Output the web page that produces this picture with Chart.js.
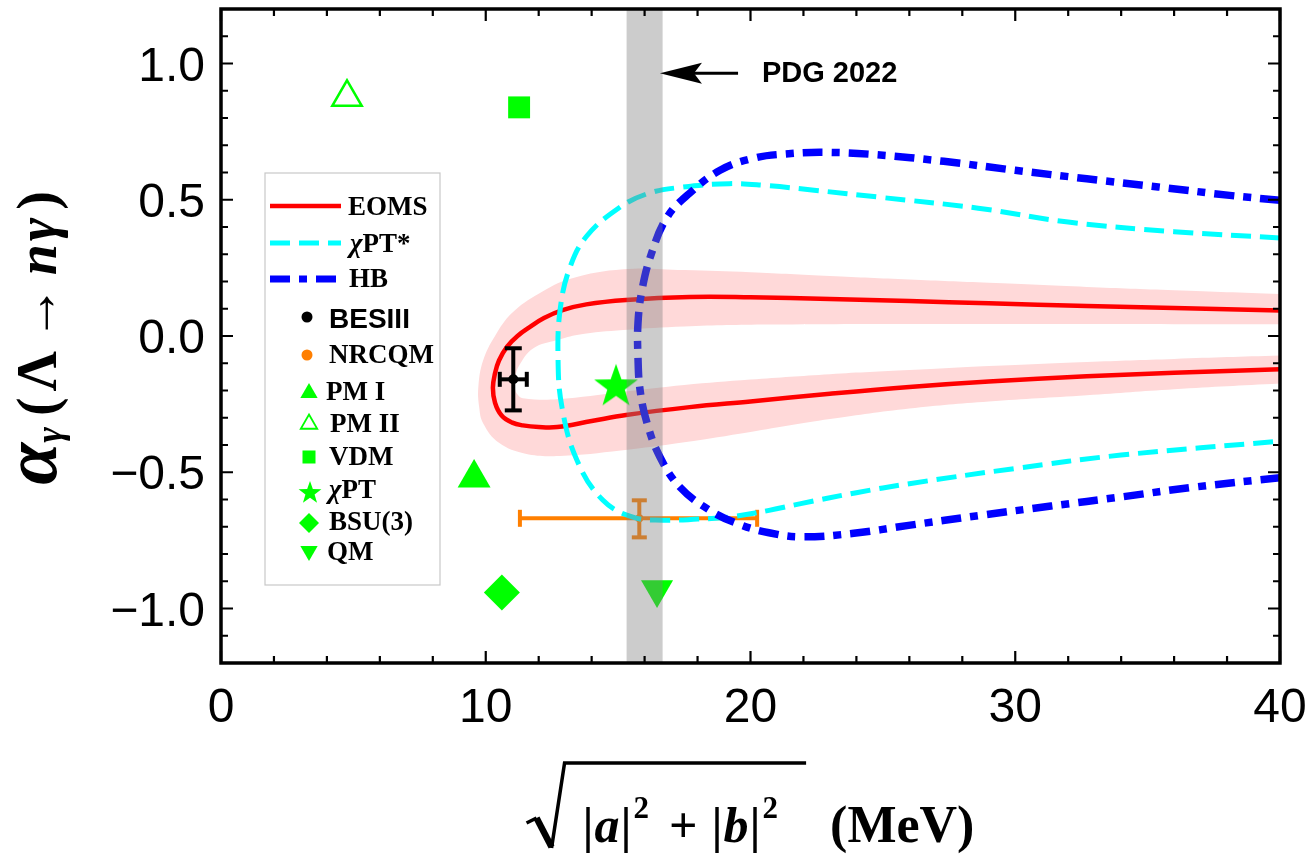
<!DOCTYPE html>
<html>
<head>
<meta charset="utf-8">
<title>alpha_gamma(Lambda -> n gamma)</title>
<script src="https://cdn.jsdelivr.net/npm/chart.js@4.4.0/dist/chart.umd.min.js"></script>
<style>
  html, body { margin: 0; padding: 0; background: #fff; }
</style>
</head>
<body>
<canvas id="chart" width="1315" height="855"></canvas>
<script>
// axes
const xRange = [0, 40];
const yRange = [-1.2, 1.2];
const xStep = 2, yStep = 0.1;      // minor ticks, labels only on majors
const xMajor = 10, yMajor = 0.5;

// EOMS curve (upper branch right->left, then lower branch left->right)
const eomsX = [40, 36, 32.7, 29, 26, 23, 20, 17.7, 15.3, 13.8, 12.9, 12.2, 11.7, 11.2, 10.8, 10.5, 10.35, 10.27, 10.35, 10.6, 11.0, 11.4, 12.0, 12.7, 14.0, 15.3, 17.7, 20, 23, 26, 29, 32.7, 36, 40];
const eomsY = [0.094, 0.103, 0.110, 0.120, 0.128, 0.136, 0.142, 0.143, 0.132, 0.116, 0.095, 0.066, 0.035, 0.000, -0.040, -0.090, -0.137, -0.190, -0.245, -0.292, -0.318, -0.328, -0.334, -0.334, -0.312, -0.290, -0.261, -0.240, -0.212, -0.187, -0.167, -0.148, -0.135, -0.122];

// EOMS error band: outer edge and inner edge (hole)
const bandOuterX = [41, 40, 36, 32.7, 29, 26, 23, 20, 17.5, 15.2, 13.2, 12.0, 11.0, 10.35, 9.9, 9.72, 9.75, 9.9, 10.5, 11.5, 12.8, 15.1, 17.5, 20, 23, 26, 29, 32.7, 36, 40, 41];
const bandOuterY = [0.150, 0.154, 0.168, 0.180, 0.195, 0.207, 0.220, 0.234, 0.242, 0.245, 0.210, 0.155, 0.085, 0.000, -0.090, -0.187, -0.260, -0.320, -0.392, -0.432, -0.440, -0.420, -0.390, -0.352, -0.305, -0.266, -0.240, -0.217, -0.195, -0.174, -0.170];
const bandInnerX = [41, 40, 30, 20.7, 17.5, 15.2, 13.5, 12.7, 11.8, 11.25, 11.12, 11.1, 11.2, 11.4, 12.7, 15.2, 17.5, 20, 23, 26, 29, 32.7, 36, 40, 41];
const bandInnerY = [0.043, 0.043, 0.044, 0.042, 0.035, 0.022, 0.005, -0.015, -0.045, -0.110, -0.150, -0.190, -0.215, -0.228, -0.232, -0.205, -0.180, -0.160, -0.140, -0.125, -0.110, -0.095, -0.084, -0.072, -0.070];

// chiPT* curve
const chptX = [40, 36, 32, 28.6, 24.9, 22.4, 20.5, 19.2, 17.4, 16.1, 15.0, 13.8, 13.18, 12.82, 12.73, 12.88, 13.45, 14.43, 15.56, 16.69, 18.0, 19.23, 20.7, 21.9, 24, 26, 30, 34, 40];
const chptY = [0.360, 0.383, 0.418, 0.469, 0.509, 0.535, 0.553, 0.559, 0.546, 0.522, 0.468, 0.365, 0.252, 0.105, -0.079, -0.262, -0.457, -0.603, -0.665, -0.676, -0.672, -0.664, -0.640, -0.615, -0.575, -0.542, -0.486, -0.437, -0.386];

// HB curve
const hbX = [40, 38.1, 35.4, 32.7, 30, 27.3, 24.8, 22.8, 21.3, 20.1, 18.85, 17.7, 16.85, 16.25, 15.9, 15.75, 15.75, 15.83, 16.09, 16.58, 17.34, 18.47, 19.6, 20.7, 21.9, 23.9, 25.97, 28.7, 31.35, 34.05, 36.8, 40];
const hbY = [0.498, 0.516, 0.547, 0.577, 0.608, 0.641, 0.665, 0.674, 0.668, 0.652, 0.608, 0.524, 0.436, 0.300, 0.168, 0.047, -0.078, -0.199, -0.319, -0.444, -0.555, -0.640, -0.692, -0.722, -0.737, -0.724, -0.695, -0.658, -0.624, -0.590, -0.554, -0.520];

// data points: [x, y, xErr, yErrLow, yErrHigh]
const besiii = [11.04, -0.159, 0.51, 0.114, 0.114];
const nrcqm = [15.8, -0.669, 0, 0.070, 0.066];
const nrcqmXRange = [11.29, 20.25];

// model predictions (green markers)
const pm1 = [9.56, -0.521];
const pm2 = [4.76, 0.876];
const vdm = [11.26, 0.839];
const chpt = [14.92, -0.181];
const bsu3 = [10.61, -0.941];
const qm = [16.47, -0.930];

// PDG 2022 band and label
const pdgBand = [15.32, 16.68];
const pdgArrow = { tipX: 16.58, tailX: 19.53, y: 0.964, textX: 20.43, text: 'PDG 2022' };

const GREEN = '#00ff00', ORANGE = '#ff7f00';
const serif = '"Liberation Serif", "Times New Roman", serif';
const sans = '"Liberation Sans", Arial, sans-serif';

function pts(xs, ys) { return xs.map((x, i) => ({ x: x, y: ys[i] })); }

function starCanvas(r, color) {
  const c = document.createElement('canvas');
  const s = Math.ceil(2 * r + 2);
  c.width = s; c.height = s;
  const g = c.getContext('2d');
  starPath(g, s / 2, s / 2 + r * 0.06, r);
  g.fillStyle = color;
  g.fill();
  return c;
}
function starPath(g, cx, cy, r) {
  g.beginPath();
  for (let i = 0; i < 10; i++) {
    const a = -Math.PI / 2 + i * Math.PI / 5;
    const rr = i % 2 ? r * 0.4 : r;
    g.lineTo(cx + rr * Math.cos(a), cy + rr * Math.sin(a));
  }
  g.closePath();
}

function marker(p, style, radius, extra) {
  return Object.assign({
    data: [{ x: p[0], y: p[1] }],
    showLine: false,
    pointStyle: style,
    pointRadius: radius,
    pointBackgroundColor: GREEN,
    pointBorderColor: GREEN,
    pointBorderWidth: 0,
    order: 50
  }, extra || {});
}

function errBar(a, b, capRot, capR, color, order) {
  return {
    data: [a, b],
    borderColor: color,
    borderWidth: 4,
    tension: 0,
    pointStyle: 'line',
    pointRotation: capRot,
    pointRadius: capR,
    pointBorderColor: color,
    pointBorderWidth: 4,
    order: order
  };
}

const datasets = [
  { data: pts(bandOuterX, bandOuterY), fill: 'shape', backgroundColor: '#ffd9d9', borderColor: 'transparent', borderWidth: 0, pointRadius: 0, tension: 0.4, order: 100 },
  { data: pts(bandInnerX, bandInnerY), fill: 'shape', backgroundColor: '#ffffff', borderColor: 'transparent', borderWidth: 0, pointRadius: 0, tension: 0.4, order: 99 },

  errBar({ x: nrcqmXRange[0], y: nrcqm[1] }, { x: nrcqmXRange[1], y: nrcqm[1] }, 90, 8.5, ORANGE, 95),
  errBar({ x: nrcqm[0], y: nrcqm[1] - nrcqm[3] }, { x: nrcqm[0], y: nrcqm[1] + nrcqm[4] }, 0, 7.5, ORANGE, 95),
  { data: [{ x: nrcqm[0], y: nrcqm[1] }], showLine: false, pointRadius: 4, pointBackgroundColor: ORANGE, pointBorderWidth: 0, order: 95 },

  { data: pts(eomsX, eomsY), borderColor: '#ff0000', borderWidth: 4.5, pointRadius: 0, tension: 0.4, order: 90 },
  { data: pts(chptX, chptY), borderColor: '#00ffff', borderWidth: 5, borderDash: [20, 9], pointRadius: 0, tension: 0.4, order: 80 },
  { data: pts(hbX, hbY), borderColor: '#0000ff', borderWidth: 7.5, borderDash: [20, 9, 8, 9], pointRadius: 0, tension: 0.4, order: 70 },

  errBar({ x: besiii[0], y: besiii[1] - besiii[3] }, { x: besiii[0], y: besiii[1] + besiii[4] }, 0, 8.5, '#000', 60),
  errBar({ x: besiii[0] - besiii[2], y: besiii[1] }, { x: besiii[0] + besiii[2], y: besiii[1] }, 90, 7.5, '#000', 60),
  { data: [{ x: besiii[0], y: besiii[1] }], showLine: false, pointRadius: 5, pointBackgroundColor: '#000', pointBorderWidth: 0, order: 60 },

  marker(pm1, 'triangle', 19),
  marker(pm2, 'triangle', 17, { pointBackgroundColor: '#fff', pointBorderWidth: 2.5 }),
  marker(vdm, 'rect', 15.5),
  marker(chpt, starCanvas(23, GREEN), 23),
  marker(bsu3, 'rectRot', 18),
  marker(qm, 'triangle', 18.5, { pointRotation: 180 }),

  { data: [{ x: pdgBand[0], y: -1.5 }, { x: pdgBand[0], y: 1.5 }, { x: pdgBand[1], y: 1.5 }, { x: pdgBand[1], y: -1.5 }],
    fill: 'shape', backgroundColor: 'rgba(128,128,128,0.4)', borderColor: 'transparent', borderWidth: 0, pointRadius: 0, tension: 0, order: 10 }
];

function isMajor(v, step) { return Math.abs(v / step - Math.round(v / step)) < 1e-6; }

// inward frame ticks on all four sides, plus tick labels
const frameTicks = {
  id: 'frameTicks',
  afterDatasetsDraw(chart) {
    const { ctx, chartArea: a, scales: { x, y } } = chart;
    ctx.save();
    ctx.strokeStyle = '#000';
    ctx.fillStyle = '#000';
    ctx.lineWidth = 2.2;
    ctx.font = '48px ' + sans;
    ctx.beginPath();
    x.ticks.forEach(t => {
      const p = x.getPixelForValue(t.value);
      const major = isMajor(t.value, xMajor);
      const len = major ? 12 : 7;
      ctx.moveTo(p, a.bottom); ctx.lineTo(p, a.bottom - len);
      ctx.moveTo(p, a.top); ctx.lineTo(p, a.top + len);
      if (major) {
        ctx.textAlign = 'center';
        ctx.textBaseline = 'alphabetic';
        ctx.fillText(String(Math.round(t.value)), p, a.bottom + 59);
      }
    });
    y.ticks.forEach(t => {
      const p = y.getPixelForValue(t.value);
      const major = isMajor(t.value, yMajor);
      const len = major ? 12 : 7;
      ctx.moveTo(a.left, p); ctx.lineTo(a.left + len, p);
      ctx.moveTo(a.right, p); ctx.lineTo(a.right - len, p);
      if (major) {
        ctx.textAlign = 'right';
        ctx.textBaseline = 'alphabetic';
        const lab = (Math.round(t.value * 10) / 10).toFixed(1).replace('-', '\u2212');
        ctx.fillText(lab === '\u22120.0' ? '0.0' : lab, a.left - 16, p + 17);
      }
    });
    ctx.stroke();
    ctx.lineWidth = 3.5;
    ctx.strokeRect(a.left, a.top, a.right - a.left, a.bottom - a.top);
    ctx.restore();
  }
};

// PDG arrow + label
const pdgLabel = {
  id: 'pdgLabel',
  afterDatasetsDraw(chart) {
    const { ctx, scales: { x, y } } = chart;
    const tip = x.getPixelForValue(pdgArrow.tipX);
    const tail = x.getPixelForValue(pdgArrow.tailX);
    const py = y.getPixelForValue(pdgArrow.y);
    ctx.save();
    ctx.strokeStyle = '#000';
    ctx.fillStyle = '#000';
    ctx.lineWidth = 3;
    ctx.beginPath();
    ctx.moveTo(tail, py); ctx.lineTo(tip + 30, py);
    ctx.stroke();
    ctx.beginPath();
    ctx.moveTo(tip, py);
    ctx.lineTo(tip + 42, py - 10.5);
    ctx.lineTo(tip + 34, py);
    ctx.lineTo(tip + 42, py + 10.5);
    ctx.closePath();
    ctx.fill();
    ctx.font = 'bold 29px ' + sans;
    ctx.textBaseline = 'middle';
    ctx.fillText(pdgArrow.text, x.getPixelForValue(pdgArrow.textX), py + 1);
    ctx.restore();
  }
};

// legend box
const legendBox = {
  id: 'legendBox',
  afterDatasetsDraw(chart) {
    const { ctx, chartArea: a } = chart;
    const L = a.left + 44, T = a.top + 164;
    ctx.save();
    ctx.fillStyle = '#fff';
    ctx.fillRect(L, T, 175, 412);
    ctx.strokeStyle = '#c8c8c8';
    ctx.lineWidth = 1.2;
    ctx.strokeRect(L, T, 175, 412);

    function line(y, color, w, dash) {
      ctx.save();
      ctx.strokeStyle = color; ctx.lineWidth = w; ctx.setLineDash(dash);
      ctx.beginPath(); ctx.moveTo(L + 5, T + y); ctx.lineTo(L + 76, T + y); ctx.stroke();
      ctx.restore();
    }
    function text(parts, x, y) {
      let cx = L + x;
      parts.forEach(p => {
        ctx.font = p[1];
        ctx.fillStyle = '#000';
        ctx.fillText(p[0], cx, T + y);
        cx += ctx.measureText(p[0]).width;
      });
    }
    const sb = 'bold 27px ' + serif, si = 'bold italic 27px ' + serif;
    line(33, '#ff0000', 4.5, []);
    text([['EOMS', sb]], 83, 42);
    line(70, '#00ffff', 5, [20, 9]);
    text([['\u03c7', si], ['PT*', sb]], 85, 79);
    line(106, '#0000ff', 7, [20, 9, 8, 9]);
    text([['HB', sb]], 84, 114);

    ctx.fillStyle = '#000';
    ctx.beginPath(); ctx.arc(L + 42, T + 144, 5.5, 0, 2 * Math.PI); ctx.fill();
    text([['BESIII', 'bold 28px ' + sans]], 64, 155);

    ctx.fillStyle = ORANGE;
    ctx.beginPath(); ctx.arc(L + 42, T + 182, 5.5, 0, 2 * Math.PI); ctx.fill();
    text([['NRCQM', sb]], 64, 190);

    function tri(cx, cy, r, down, fillIt) {
      const s = down ? -1 : 1;
      ctx.beginPath();
      ctx.moveTo(cx, cy - s * r);
      ctx.lineTo(cx + r * 0.866, cy + s * r / 2);
      ctx.lineTo(cx - r * 0.866, cy + s * r / 2);
      ctx.closePath();
      if (fillIt) { ctx.fillStyle = GREEN; ctx.fill(); }
      else { ctx.strokeStyle = GREEN; ctx.lineWidth = 1.8; ctx.stroke(); }
    }
    tri(L + 44, T + 220, 10, false, true);
    text([['PM I', sb]], 61, 227);
    tri(L + 44, T + 251, 9.5, false, false);
    text([['PM II', sb]], 65, 259);
    ctx.fillStyle = GREEN;
    ctx.fillRect(L + 37.5, T + 277.5, 13, 13);
    text([['VDM', sb]], 64, 292);
    starPath(ctx, L + 45, T + 320, 12);
    ctx.fillStyle = GREEN; ctx.fill();
    text([['\u03c7', si], ['PT', sb]], 64, 325);
    ctx.fillStyle = GREEN;
    ctx.beginPath();
    ctx.moveTo(L + 34, T + 350); ctx.lineTo(L + 44, T + 340); ctx.lineTo(L + 54, T + 350); ctx.lineTo(L + 44, T + 360);
    ctx.closePath(); ctx.fill();
    text([['BSU(3)', sb]], 64, 357);
    tri(L + 44, T + 378, 10, true, true);
    text([['QM', sb]], 62, 387);
    ctx.restore();
  }
};

// axis titles with math layout
const axisTitles = {
  id: 'axisTitles',
  afterDraw(chart) {
    const { ctx, chartArea: a } = chart;
    ctx.save();
    ctx.fillStyle = '#000';
    ctx.strokeStyle = '#000';

    // y title: alpha_gamma(Lambda -> n gamma), rotated
    const yParts = [
      ['\u03b1', 'bold italic 76px ' + serif, 0, 0],
      ['\u03b3', 'bold italic 38px ' + serif, 6, 0],
      ['(', 'bold 56px ' + serif, 0, 11],
      ['\u039b', 'bold 56px ' + serif, 0, 6],
      ['\u2192', 'bold 56px ' + serif, 0, 10],
      ['n', 'bold italic 56px ' + serif, 0, 10],
      ['\u03b3', 'bold italic 56px ' + serif, 0, 3],
      [')', 'bold 56px ' + serif, 0, 8]
    ];
    let total = 0;
    yParts.forEach(p => { ctx.font = p[1]; total += ctx.measureText(p[0]).width + p[3]; });
    ctx.save();
    ctx.translate(56, (a.top + a.bottom) / 2 + 2);
    ctx.rotate(-Math.PI / 2);
    let cx = -total / 2;
    yParts.forEach(p => {
      ctx.font = p[1];
      cx += p[3];
      ctx.fillText(p[0], cx, p[2]);
      cx += ctx.measureText(p[0]).width;
    });
    ctx.restore();

    // x title: sqrt(|a|^2 + |b|^2)  (MeV)
    const big = 'bold 50px ' + serif, bigI = 'bold italic 50px ' + serif, sup = 'bold 31px ' + serif;
    const radicand = [
      ['|', big, 0, 0], ['a', bigI, 0, 1], ['|', big, 0, 1], ['2', sup, -24, 2],
      ['+', big, 0, 20], ['|', big, 0, 14], ['b', bigI, 0, 1], ['|', big, 0, 1], ['2', sup, -24, 2]
    ];
    const radW = 38, radGap = 18, overExt = 28, unitGap = 24;
    const unitFont = 'bold 52px ' + serif;
    ctx.font = unitFont;
    const unitW = ctx.measureText('(MeV)').width;
    let rw = 0;
    radicand.forEach(p => { ctx.font = p[1]; rw += ctx.measureText(p[0]).width + p[3]; });
    const width = radW + radGap + rw + overExt + unitGap + unitW;
    const x0 = (a.left + a.right) / 2 - width / 2;
    const base = 842;

    ctx.lineJoin = 'miter';
    ctx.lineWidth = 3.5;
    ctx.beginPath();
    ctx.moveTo(x0, base - 19);
    ctx.lineTo(x0 + 10, base - 24);
    ctx.stroke();
    ctx.lineWidth = 6.5;
    ctx.beginPath();
    ctx.moveTo(x0 + 10, base - 24);
    ctx.lineTo(x0 + 25, base + 5);
    ctx.stroke();
    ctx.lineWidth = 3.5;
    ctx.beginPath();
    ctx.moveTo(x0 + 25, base + 6);
    ctx.lineTo(x0 + radW, base - 79);
    ctx.lineTo(x0 + radW + radGap + rw + overExt, base - 79);
    ctx.stroke();

    let tx = x0 + radW + radGap;
    radicand.forEach(p => {
      ctx.font = p[1];
      tx += p[3];
      ctx.fillText(p[0], tx, base + p[2]);
      tx += ctx.measureText(p[0]).width;
    });
    ctx.font = unitFont;
    ctx.fillText('(MeV)', x0 + width - unitW, base);
    ctx.restore();
  }
};

new Chart(document.getElementById('chart'), {
  type: 'line',
  data: { datasets: datasets },
  options: {
    responsive: false,
    animation: false,
    events: [],
    layout: { autoPadding: false, padding: { left: 0, top: 9, right: 35, bottom: 0 } },
    plugins: { legend: { display: false }, tooltip: { enabled: false } },
    scales: {
      x: {
        type: 'linear', min: xRange[0], max: xRange[1],
        grid: { display: false, drawTicks: false }, border: { display: false },
        ticks: { display: false, stepSize: xStep, autoSkip: false },
        afterFit: s => { s.height = 855 - 663; }
      },
      y: {
        type: 'linear', min: yRange[0], max: yRange[1],
        grid: { display: false, drawTicks: false }, border: { display: false },
        ticks: { display: false, stepSize: yStep, autoSkip: false },
        afterFit: s => { s.width = 221; }
      }
    }
  },
  plugins: [frameTicks, pdgLabel, legendBox, axisTitles]
});
</script>
</body>
</html>
